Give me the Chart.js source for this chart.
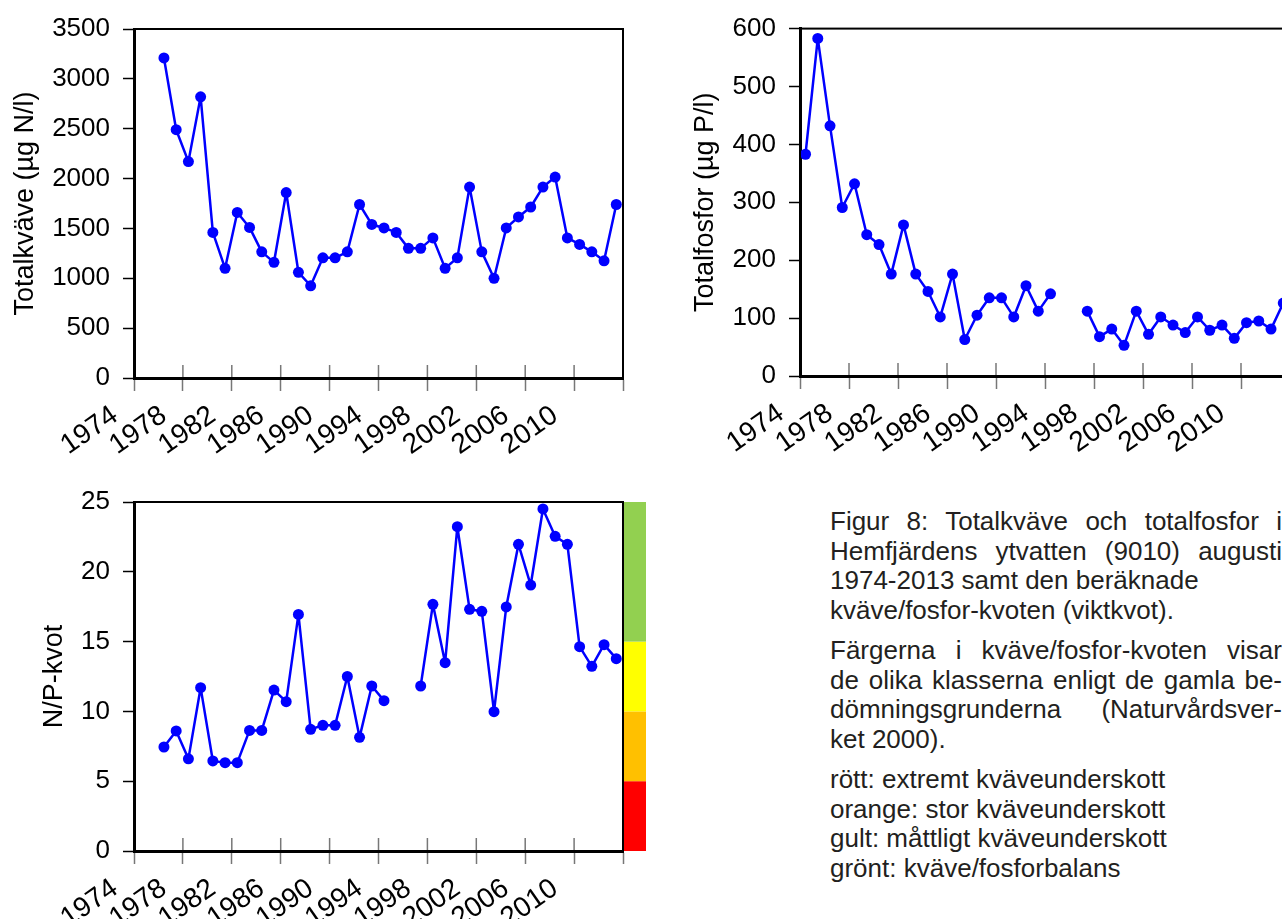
<!DOCTYPE html>
<html>
<head>
<meta charset="utf-8">
<script src="https://cdn.jsdelivr.net/npm/chart.js@4.4.0/dist/chart.umd.min.js"></script>
<style>
  html, body { margin: 0; padding: 0; background: #fff; width: 1282px; height: 919px; overflow: hidden; }
  canvas { position: absolute; }
  #caption { position: absolute; left: 830px; top: 507px; width: 452px;
    font: 26px "Liberation Sans", Arial, sans-serif; line-height: 29.5px; color: #231f20; }
  #caption div { white-space: nowrap; }
  #caption .j { text-align: justify; text-align-last: justify; white-space: normal; }
  #caption .gap { margin-top: 11px; }
</style>
</head>
<body>
<canvas id="nChart" width="660" height="470" style="left:0;top:0"></canvas>
<canvas id="pChart" width="640" height="470" style="left:680px;top:0"></canvas>
<canvas id="npChart" width="660" height="470" style="left:0;top:460px"></canvas>

<div id="caption">
  <div class="j">Figur 8: Totalkväve och totalfosfor i</div>
  <div class="j">Hemfjärdens ytvatten (9010) augusti</div>
  <div>1974-2013 samt den beräknade</div>
  <div>kväve/fosfor-kvoten (viktkvot).</div>
  <div class="j gap">Färgerna i kväve/fosfor-kvoten visar</div>
  <div class="j">de olika klasserna enligt de gamla be-</div>
  <div class="j">dömningsgrunderna (Naturvårdsver-</div>
  <div>ket 2000).</div>
  <div class="gap">rött: extremt kväveunderskott</div>
  <div>orange: stor kväveunderskott</div>
  <div>gult: måttligt kväveunderskott</div>
  <div>grönt: kväve/fosforbalans</div>
</div>

<script>
// --- data (August samples) ---
const nYears = [1976, 1977, 1978, 1979, 1980, 1981, 1982, 1983, 1984, 1985, 1986, 1987, 1988,
  1989, 1990, 1991, 1992, 1993, 1994, 1995, 1996, 1997, 1998, 1999, 2000, 2001, 2002, 2003,
  2004, 2005, 2006, 2007, 2008, 2009, 2010, 2011, 2012, 2013];
const totN = [3210, 2490, 2170, 2820, 1460, 1100, 1660, 1510, 1265, 1160, 1860, 1060, 925,
  1205, 1205, 1265, 1740, 1540, 1505, 1460, 1300, 1300, 1405, 1100, 1205, 1915, 1265, 1000,
  1505, 1615, 1715, 1915, 2015, 1405, 1340, 1265, 1175, 1740];

const pYears = [1974, 1975, 1976, 1977, 1978, 1979, 1980, 1981, 1982, 1983, 1984, 1985, 1986,
  1987, 1988, 1989, 1990, 1991, 1992, 1993, 1994, 1995, 1996, 1997, 1998, 1999, 2000, 2001,
  2002, 2003, 2004, 2005, 2006, 2007, 2008, 2009, 2010, 2011, 2012, 2013];
const totP = [383, 583, 432, 291, 332, 244, 227, 176, 261, 176, 146, 102, 176,
  63, 105, 135, 135, 102, 156, 112, 142, null, null, 112, 68, 81, 53, 112,
  72, 102, 88, 75, 102, 79, 88, 65, 92, 95, 81, 126];

const npYears = nYears;
const npRatio = [7.45, 8.6, 6.6, 11.7, 6.45, 6.33, 6.33, 8.64, 8.64, 11.53, 10.7, 16.95, 8.72,
  9.0, 9.0, 12.5, 8.14, 11.82, 10.77, null, null, 11.82, 17.67, 13.49, 23.23, 17.31, 17.17, 9.98,
  17.48, 21.97, 19.05, 24.5, 22.54, 21.97, 14.64, 13.23, 14.78, 13.78];

const xTickLabels = [1974, 1978, 1982, 1986, 1990, 1994, 1998, 2002, 2006, 2010];

// N/P classes (Naturvårdsverket 2000)
const classLimits = [0, 5, 10, 15, 25];
const classColors = ['#ff0000', '#ffc000', '#ffff00', '#92d050'];

const sampleOffset = 0.45; // samples taken in August, plotted inside the year
const FONT = "'Liberation Sans', Arial, sans-serif";

const toPoints = (years, vals) => years.map((yr, i) => ({ x: yr + sampleOffset, y: vals[i] }));

// frame round the plot plus the x ticks that reach into the plot
const framePlugin = {
  id: 'frame',
  afterDraw(chart) {
    const { ctx, chartArea: a, scales: { x } } = chart;
    ctx.save();
    ctx.strokeStyle = '#777';
    ctx.lineWidth = 1.5;
    x.ticks.forEach(t => {
      const px = x.getPixelForValue(t.value);
      ctx.beginPath();
      ctx.moveTo(px, a.bottom - 13);
      ctx.lineTo(px, a.bottom);
      ctx.stroke();
    });
    ctx.strokeStyle = '#000';
    ctx.lineWidth = 2;
    ctx.strokeRect(a.left, a.top, a.right - a.left, a.bottom - a.top);
    ctx.restore();
  }
};

// coloured class bar to the right of the N/P plot
const classBarPlugin = {
  id: 'classBar',
  afterDraw(chart) {
    const { ctx, chartArea: a, scales: { y } } = chart;
    ctx.save();
    for (let i = 0; i < classColors.length; i++) {
      const top = y.getPixelForValue(classLimits[i + 1]);
      const bottom = y.getPixelForValue(classLimits[i]);
      ctx.fillStyle = classColors[i];
      ctx.fillRect(a.right + 1, top, 22, bottom - top);
    }
    ctx.restore();
  }
};

function makeChart(id, points, yMax, yStep, title, opts) {
  return new Chart(document.getElementById(id), {
    type: 'line',
    data: {
      datasets: [{
        data: points,
        borderColor: '#0000ff',
        backgroundColor: '#0000ff',
        borderWidth: 2.5,
        borderJoinStyle: 'round',
        pointRadius: 5.5,
        pointHoverRadius: 5.5,
        pointBorderWidth: 0,
        tension: 0,
        spanGaps: false,
        clip: false
      }]
    },
    options: {
      responsive: false,
      animation: false,
      events: [],
      layout: { padding: { top: opts.padTop, right: opts.padRight, left: 0, bottom: 0 } },
      plugins: { legend: { display: false }, tooltip: { enabled: false } },
      scales: {
        x: {
          type: 'linear',
          min: 1974,
          max: 2014,
          afterFit: s => { s.height = opts.xHeight; },
          ticks: {
            stepSize: 4,
            autoSkip: false,
            minRotation: 35,
            maxRotation: 35,
            labelOffset: -19,
            padding: 8,
            color: '#000',
            font: { family: FONT, size: 28 },
            callback: v => xTickLabels.includes(v) ? String(v) : ''
          },
          grid: { drawOnChartArea: false, tickLength: 13, color: '#777', tickWidth: 1.5 },
          border: { color: '#000', width: 3 }
        },
        y: {
          min: 0,
          max: yMax,
          afterFit: s => { s.width = opts.yWidth; },
          ticks: {
            stepSize: yStep,
            padding: 13,
            color: '#000',
            font: { family: FONT, size: 26 },
            callback: v => String(v)
          },
          grid: { drawOnChartArea: false, tickLength: 11, color: '#000', tickWidth: 1.5 },
          border: { color: '#000', width: 3 },
          title: {
            display: true,
            text: title,
            color: '#000',
            font: { family: FONT, size: 27 },
            padding: { top: opts.titlePad, bottom: 0 }
          }
        }
      }
    },
    plugins: opts.plugins
  });
}

makeChart('nChart', toPoints(nYears, totN), 3500, 500, 'Totalkväve (µg N/l)',
  { padTop: 29, padRight: 37, xHeight: 92, yWidth: 134, titlePad: 9, plugins: [framePlugin] });

makeChart('pChart', toPoints(pYears, totP), 600, 100, 'Totalfosfor (µg P/l)',
  { padTop: 27, padRight: 30, xHeight: 94, yWidth: 120, titlePad: 9, plugins: [framePlugin] });

makeChart('npChart', toPoints(npYears, npRatio), 25, 5, 'N/P-kvot',
  { padTop: 42, padRight: 37, xHeight: 79, yWidth: 134, titlePad: 38, plugins: [framePlugin, classBarPlugin] });
</script>
</body>
</html>
